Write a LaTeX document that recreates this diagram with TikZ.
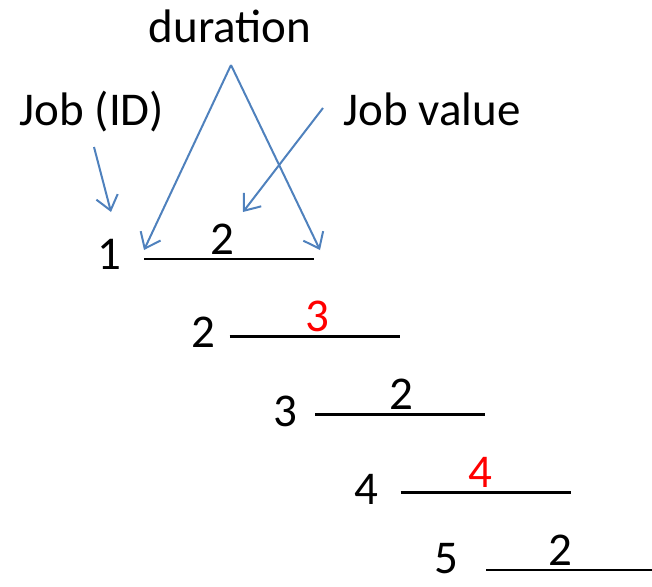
\documentclass[tikz,border=0pt]{standalone}
\usepackage{fontspec}
\setmainfont{Carlito}
\usetikzlibrary{arrows.meta, calc}
\definecolor{ptrblue}{RGB}{79, 129, 189}

\tikzset{
  lbl/.style={inner sep=0pt, font=\fontsize{47}{56}\selectfont},
  ptr/.style={draw=ptrblue, line width=2pt, -{Straight Barb[length=14pt, width=22pt, line width=2pt]}},
  jobline/.style={line width=2.6pt, black}
}

\begin{document}
\begin{tikzpicture}[x=1pt, y=-1pt]
  \useasboundingbox (0,0) rectangle (652,586);

  % labels on top
  \node[lbl, anchor=base] (dur) at (230,42) {duration};
  \node[lbl, anchor=base] (jobid) at (92,125) {Job (ID)};
  \node[lbl, anchor=base] (jobval) at (432,125) {Job value};

  % jobs: id / value / colour / shift of the value / gap and drop of the id
  \foreach \n/\v/\col/\dx/\gx/\gy in {1/2/black/-7/22/10, 2/3/red/3/14/11, 3/2/black/1/17/12, 4/4/red/-5/22/12, 5/2/black/-11/27/3} {
    \coordinate (s\n) at ({144+85.5*(\n-1)},{259+77.75*(\n-1)});
    \coordinate (e\n) at ($(s\n)+(170,0)$);
    \draw[jobline] (s\n) -- (e\n);
    \node[lbl, anchor=base east] (id\n) at ($(s\n)+(-\gx,\gy)$) {\n};
    \node[lbl, anchor=base, text=\col] (val\n) at ($(s\n)+(85+\dx,-5)$) {\v};
  }

  % pointers
  \coordinate (apex) at (231,65);
  \coordinate (idtail) at (94,147);
  \coordinate (idhead) at (111,212);
  \coordinate (valtail) at (323,108);
  \coordinate (valhead) at (243,212);
  \draw[ptr] (apex) -- ($(s1)+(0,-9)$);
  \draw[ptr] (apex) -- ($(e1)+(6,-9)$);
  \draw[ptr] (idtail) -- (idhead);
  \draw[ptr] (valtail) -- (valhead);
\end{tikzpicture}
\end{document}
